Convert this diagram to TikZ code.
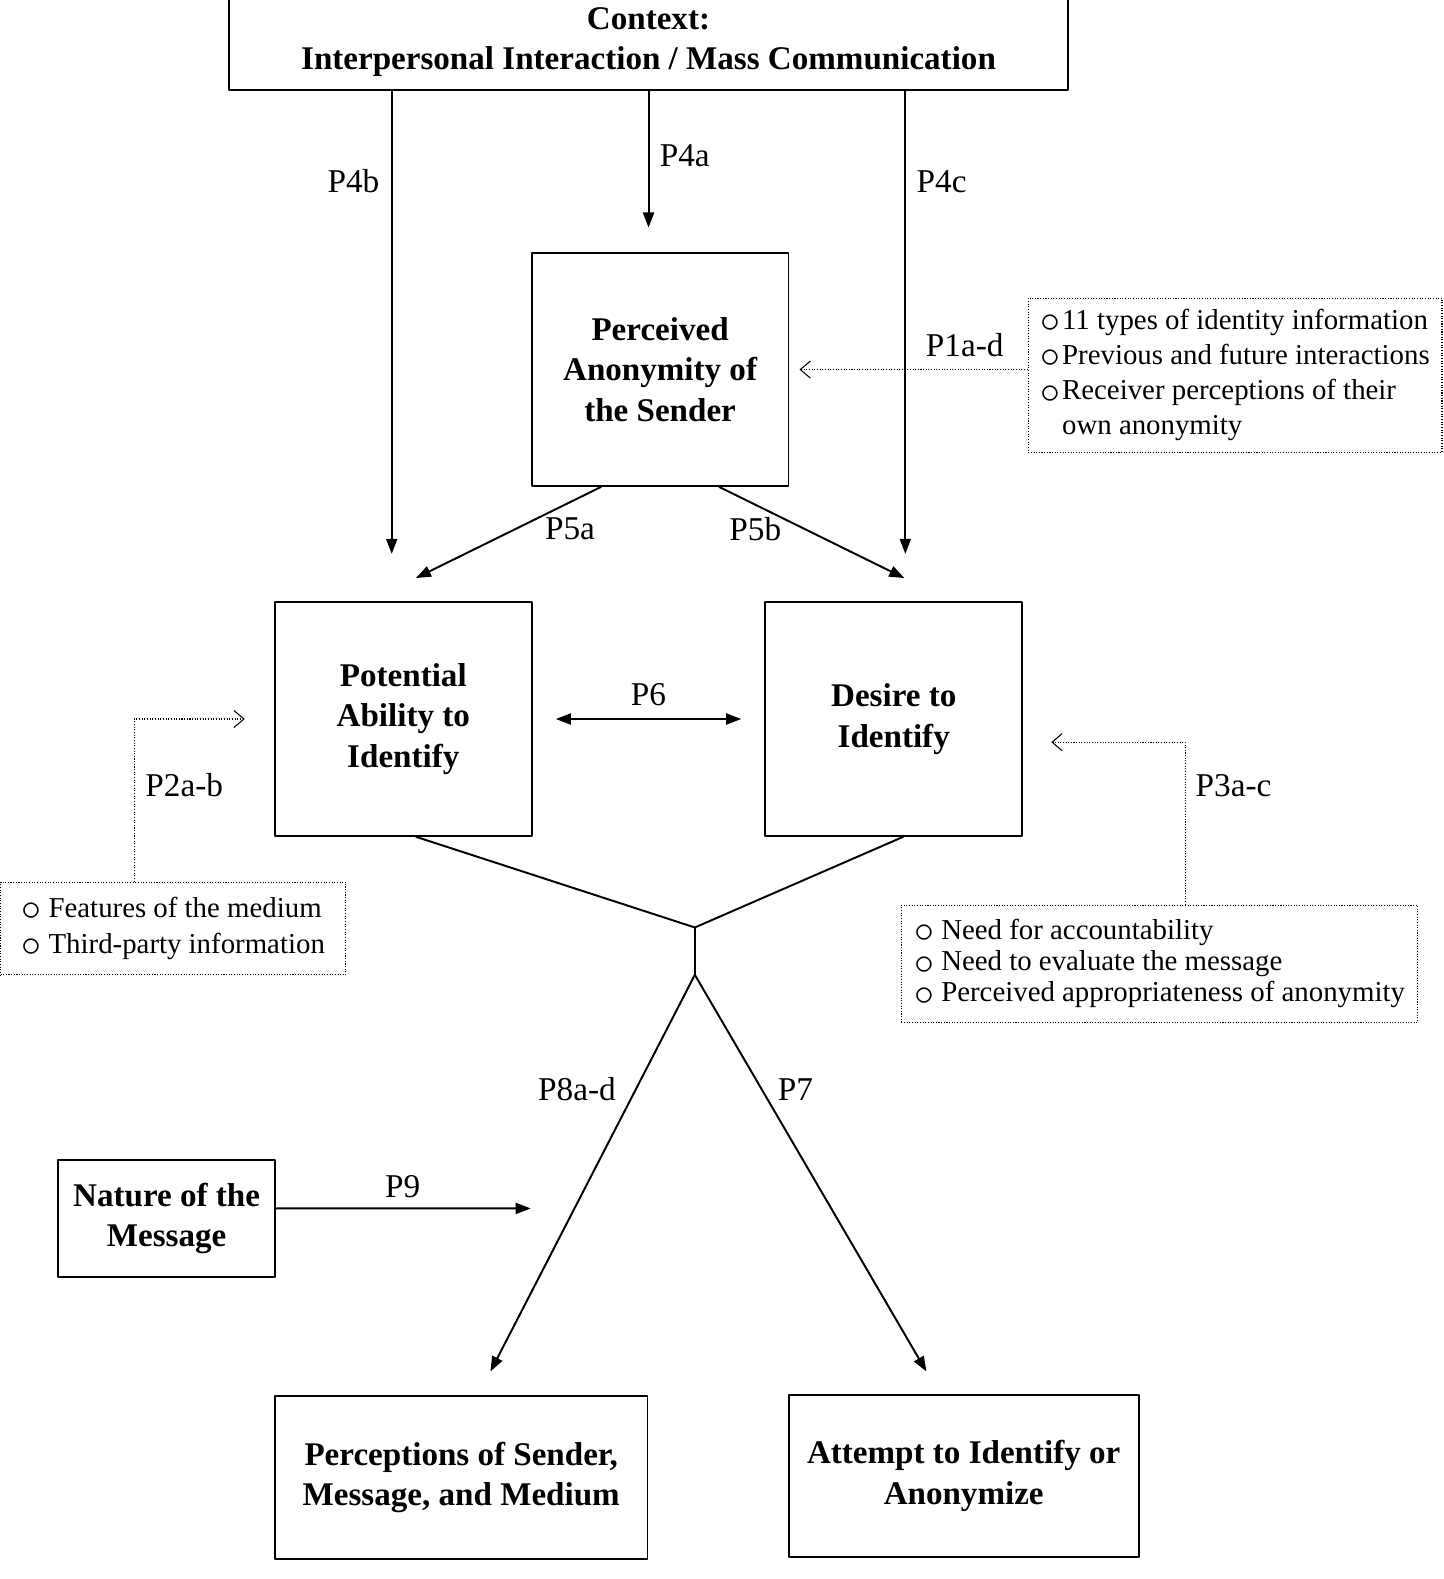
\documentclass[tikz,border=0pt]{standalone}
\usepackage{fontspec}
\setmainfont{Liberation Serif}
\usetikzlibrary{arrows.meta}
\newcommand{\bul}{\raisebox{-0.25ex}[0pt][0pt]{\scalebox{1.3}{$\circ$}}}

\begin{document}
\begin{tikzpicture}[x=0.02cm, y=-0.02cm, line join=round, line width=1.1pt,
	>={Triangle[length=0.3cm,width=0.22cm]},
	font=\fontsize{18.8}{22.8}\selectfont,
	box/.style={draw, align=center, inner sep=0pt, font=\fontsize{18.7}{22.8}\selectfont\bfseries},
	dots/.style={line width=0.6pt, dash pattern=on 0.6pt off 0.9pt},
	note/.style={draw, dots, align=left, inner sep=0pt},
	opn/.style={dots, -{Straight Barb[length=0.2cm,width=0.34cm]}}]
	
	\node[box, minimum width=16.68cm, minimum height=1.88cm] (ctx) at (644,42) {Context:\\Interpersonal Interaction / Mass Communication};
	\node[box, minimum width=5.1cm, minimum height=4.62cm] (anon) at (655.5,367) {Perceived\\Anonymity of\\the Sender};
	\node[box, minimum width=5.1cm, minimum height=4.64cm] (pot) at (400.5,714) {Potential\\Ability to\\Identify};
	\node[box, minimum width=5.1cm, minimum height=4.64cm] (des) at (887.5,714) {Desire to\\Identify};
	\node[box, minimum width=4.3cm, minimum height=2.32cm] (nat) at (165.5,1210) {Nature of the\\Message};
	\node[box, minimum width=7.4cm, minimum height=3.24cm] (perc) at (458,1467) {Perceptions of Sender,\\Message, and Medium};
	\node[box, minimum width=6.96cm, minimum height=3.22cm] (att) at (957,1465.5) {Attempt to Identify or\\Anonymize};
	
	% dotted lists
	\node[note, minimum width=8.22cm, minimum height=3.06cm, font=\fontsize{16.3}{19.9}\selectfont] (idn) at (1226.5,372.5)
	{\bul\kern1pt 11 types of identity information\\\bul\kern1pt Previous and future interactions\\\bul\kern1pt Receiver perceptions of their\\\phantom{\bul\kern1pt}own anonymity};
	\node[note, minimum width=6.86cm, minimum height=1.84cm, font=\fontsize{16.3}{20.4}\selectfont] (med) at (172,922)
	{\bul\ Features of the medium\\\bul\ Third-party information\hspace{0.6cm}};
	\node[note, minimum width=10.26cm, minimum height=2.32cm, font=\fontsize{16.3}{17.6}\selectfont] (need) at (1151.5,957)
	{\bul\ Need for accountability\\\bul\ Need to evaluate the message\\\bul\ Perceived appropriateness of anonymity};
	
	\path
	(389,550) coordinate (e4b)
	(644,226) coordinate (e4a)
	(899,550) coordinate (e4c)
	(413,574) coordinate (e5a)
	(898,574) coordinate (e5b)
	(690,921) coordinate (J)
	(690,968) coordinate (F)
	(487,1362) coordinate (e8)
	(920,1362) coordinate (e7)
	(527,1200) coordinate (e9);
	
	\draw[->] (ctx.south -| e4b) -- (e4b);
	\draw[->] (ctx.south) -- (e4a);
	\draw[->] (ctx.south -| e4c) -- (e4c);
	\draw[->] ([xshift=-1.17cm]anon.south) -- (e5a);
	\draw[->] ([xshift=1.17cm]anon.south) -- (e5b);
	\draw[<->, shorten <=0.46cm, shorten >=0.46cm] (pot.east) -- (des.west);
	\draw ([xshift=0.25cm]pot.south) -- (J) -- ([xshift=0.19cm]des.south);
	\draw (J) -- (F);
	\draw[->] (F) -- (e8);
	\draw[->] (F) -- (e7);
	\draw[->] ([yshift=0.2cm]nat.east) -- (e9);
	
	\draw[opn, shorten >=0.2cm] (idn.west |- anon.east) -- (anon.east);
	\draw[opn, shorten >=0.58cm] ([xshift=-0.77cm]med.north) |- (pot.west);
	\draw[opn, shorten >=0.56cm] ([xshift=0.51cm]need.north) |- ([yshift=-0.46cm]des.east);
	
	\foreach \n/\x/\y/\t in {l4b/351/180/P4b, l4a/680/155/P4a, l4c/935/180/P4c, l1/958/343/P1a-d,
		l5a/566/525/P5a, l5b/750/525/P5b, l6/644/690/P6, l2/183/780/P2a-b, l3/1225/780/P3a-c,
		l8/573/1082/P8a-d, l7/790/1082/P7, l9/400/1178/P9}
	\node (\n) at (\x,\y) {\t};
	
	\pgfresetboundingbox
	\useasboundingbox (0,0) rectangle (1433,1568);
\end{tikzpicture}
\end{document}
